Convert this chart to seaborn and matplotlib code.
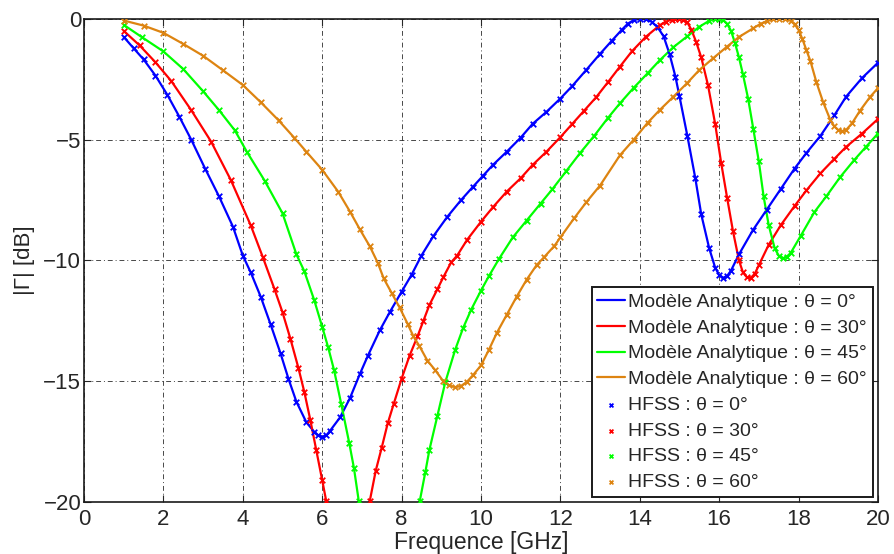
import pandas as pd
from matplotlib import pyplot as plt
import seaborn as sns

# |Gamma| vs frequency, analytic model vs HFSS, for 4 incidence angles

freq_0 = [1.0, 1.25, 1.5, 1.8, 2.1, 2.4, 2.7, 3.05, 3.4, 3.75, 4.0, 4.2, 4.45, 4.7, 4.95,
          5.15, 5.35, 5.6, 5.8, 5.9, 6.0, 6.1, 6.2, 6.45, 6.7, 6.95, 7.15, 7.45, 7.7, 8.0,
          8.25, 8.5, 8.8, 9.15, 9.5, 9.8, 10.05, 10.3, 10.65, 11.0, 11.3, 11.65, 12.0, 12.3,
          12.65, 13.0, 13.3, 13.55, 13.7, 13.85, 14.0, 14.15, 14.3, 14.45, 14.6, 14.75, 14.9,
          15.0, 15.2, 15.4, 15.55, 15.75, 15.9, 16.0, 16.1, 16.2, 16.3, 16.5, 16.85, 17.2,
          17.55, 17.9, 18.2, 18.55, 18.9, 19.2, 19.6, 20.0]
gamma_0 = [-0.75, -1.22, -1.68, -2.35, -3.15, -4.05, -5.0, -6.2, -7.35, -8.6, -9.8, -10.5,
           -11.5, -12.65, -13.85, -14.9, -15.85, -16.7, -17.1, -17.25, -17.3, -17.25, -17.05,
           -16.5, -15.7, -14.7, -13.95, -12.9, -12.15, -11.3, -10.6, -9.8, -9.0, -8.2, -7.5,
           -6.95, -6.5, -6.05, -5.5, -4.92, -4.35, -3.85, -3.3, -2.78, -2.12, -1.45, -0.9,
           -0.45, -0.2, -0.05, 0.0, -0.02, -0.12, -0.35, -0.72, -1.45, -2.4, -3.2, -4.85, -6.6,
           -8.1, -9.5, -10.3, -10.6, -10.72, -10.65, -10.42, -9.75, -8.75, -7.9, -7.05, -6.2,
           -5.55, -4.85, -4.0, -3.22, -2.45, -1.82]

freq_30 = [1.0, 1.4, 1.8, 2.2, 2.7, 3.2, 3.7, 4.2, 4.5, 4.8, 5.0, 5.2, 5.4, 5.55, 5.7, 5.85,
           6.0, 6.1, 6.2, 7.1, 7.2, 7.35, 7.5, 7.65, 7.8, 8.0, 8.2, 8.4, 8.55, 8.7, 8.9, 9.05,
           9.25, 9.4, 9.65, 10.0, 10.3, 10.65, 11.0, 11.3, 11.65, 12.0, 12.3, 12.6, 12.9, 13.2,
           13.5, 13.8, 14.15, 14.5, 14.65, 14.8, 14.9, 15.0, 15.1, 15.2, 15.3, 15.42, 15.55,
           15.72, 15.9, 16.05, 16.2, 16.35, 16.5, 16.6, 16.7, 16.8, 16.9, 17.0, 17.25, 17.55,
           17.9, 18.2, 18.55, 18.9, 19.2, 19.6, 20.0]
gamma_30 = [-0.5, -1.1, -1.8, -2.58, -3.78, -5.08, -6.68, -8.55, -9.85, -11.2, -12.15, -13.25,
            -14.45, -15.45, -16.6, -17.85, -19.1, -19.95, -20.9, -20.8, -19.95, -18.7, -17.75,
            -16.75, -15.95, -14.9, -13.95, -13.15, -12.5, -11.85, -11.2, -10.7, -10.08, -9.8,
            -9.15, -8.4, -7.8, -7.15, -6.6, -6.05, -5.5, -4.9, -4.35, -3.8, -3.25, -2.62, -1.98,
            -1.35, -0.75, -0.27, -0.12, -0.03, 0.0, 0.0, -0.03, -0.15, -0.45, -0.95, -1.6,
            -2.75, -4.35, -5.95, -7.4, -8.8, -10.0, -10.5, -10.7, -10.72, -10.55, -10.2, -9.35,
            -8.55, -7.75, -7.1, -6.4, -5.8, -5.3, -4.75, -4.15]

freq_45 = [1.0, 1.45, 2.0, 2.5, 3.0, 3.4, 3.8, 4.1, 4.55, 5.0, 5.35, 5.55, 5.8, 6.0, 6.15,
           6.3, 6.48, 6.68, 6.8, 6.92, 7.0, 8.35, 8.46, 8.6, 8.7, 8.9, 9.1, 9.35, 9.55, 9.75,
           10.0, 10.2, 10.45, 10.8, 11.15, 11.5, 11.8, 12.15, 12.5, 12.85, 13.2, 13.5, 13.85,
           14.2, 14.5, 14.85, 15.2, 15.5, 15.75, 15.9, 16.0, 16.1, 16.2, 16.3, 16.4, 16.5,
           16.6, 16.73, 16.86, 17.0, 17.12, 17.25, 17.4, 17.5, 17.6, 17.7, 17.8, 18.05, 18.4,
           18.7, 19.05, 19.4, 19.7, 20.0]
gamma_45 = [-0.25, -0.75, -1.35, -2.08, -3.0, -3.78, -4.62, -5.5, -6.7, -8.05, -9.75, -10.45,
            -11.65, -12.75, -13.6, -14.55, -15.95, -17.55, -18.6, -19.95, -20.9, -20.9, -19.95,
            -18.75, -17.85, -16.45, -15.05, -13.7, -12.8, -12.05, -11.25, -10.65, -9.95, -9.05,
            -8.35, -7.65, -7.05, -6.3, -5.55, -4.85, -4.1, -3.5, -2.85, -2.25, -1.72, -1.17,
            -0.72, -0.33, -0.08, -0.01, 0.0, -0.05, -0.2, -0.5, -1.0, -1.6, -2.3, -3.3, -4.55,
            -5.9, -7.35, -8.55, -9.5, -9.8, -9.92, -9.85, -9.7, -9.0, -8.0, -7.35, -6.55, -5.85,
            -5.3, -4.75]

freq_60 = [1.0, 1.5, 2.0, 2.5, 3.0, 3.5, 4.0, 4.45, 4.9, 5.3, 5.6, 6.0, 6.4, 6.7, 6.95, 7.2,
           7.4, 7.55, 7.75, 7.95, 8.15, 8.3, 8.45, 8.65, 8.85, 9.05, 9.2, 9.35, 9.5, 9.65, 9.8,
           10.0, 10.2, 10.4, 10.65, 10.9, 11.15, 11.4, 11.6, 11.85, 12.0, 12.35, 12.65, 13.0,
           13.5, 13.85, 14.2, 14.5, 14.85, 15.2, 15.5, 15.85, 16.2, 16.5, 16.85, 17.05, 17.2,
           17.35, 17.5, 17.65, 17.8, 17.9, 18.0, 18.1, 18.2, 18.3, 18.45, 18.62, 18.8, 18.9,
           19.0, 19.1, 19.2, 19.35, 19.55, 19.8, 20.0]
gamma_60 = [-0.07, -0.28, -0.58, -1.04, -1.53, -2.13, -2.74, -3.45, -4.2, -4.93, -5.5, -6.25,
            -7.15, -7.98, -8.72, -9.42, -10.1, -10.75, -11.35, -11.95, -12.62, -13.15, -13.55,
            -14.15, -14.55, -15.0, -15.18, -15.25, -15.2, -15.02, -14.75, -14.35, -13.7, -13.0,
            -12.25, -11.5, -10.8, -10.2, -9.85, -9.4, -9.05, -8.25, -7.6, -6.9, -5.65, -5.0,
            -4.3, -3.78, -3.22, -2.65, -2.12, -1.63, -1.15, -0.75, -0.4, -0.2, -0.1, -0.02, 0.0,
            -0.01, -0.08, -0.22, -0.45, -0.85, -1.3, -1.75, -2.62, -3.45, -4.18, -4.45, -4.6,
            -4.65, -4.6, -4.32, -3.8, -3.24, -2.87]

angles = [0, 30, 45, 60]
freqs = [freq_0, freq_30, freq_45, freq_60]
gammas = [gamma_0, gamma_30, gamma_45, gamma_60]
colors = ["#0000FF", "#FF0000", "#00FF00", "#DD8411"]

x_ticks = list(range(0, 21, 2))
y_ticks = [-20, -15, -10, -5, 0]

sns.set_theme(style="white")
plt.rcParams["font.family"] = ["Liberation Sans", "DejaVu Sans"]
plt.rcParams["xtick.direction"] = "in"
plt.rcParams["ytick.direction"] = "in"

fig, ax = plt.subplots(figsize=(8.94, 5.54), dpi=100)
fig.subplots_adjust(left=0.094, right=0.982, bottom=0.094, top=0.966)

for ang, f, g, c in zip(angles, freqs, gammas, colors):
    df = pd.DataFrame({"f": f, "g": g})
    sns.lineplot(data=df, x="f", y="g", color=c, linewidth=1.6, ax=ax,
                 estimator=None, sort=False,
                 label="Modèle Analytique : θ = %d°" % ang)

for ang, f, g, c in zip(angles, freqs, gammas, colors):
    df = pd.DataFrame({"f": f, "g": g})
    sns.scatterplot(data=df, x="f", y="g", color=c, marker="x", s=16, linewidth=1.3,
                    ax=ax, zorder=3, label="HFSS : θ = %d°" % ang)

ax.set_xlim(0, 20)
ax.set_ylim(-20, 0)
ax.set_xticks(x_ticks)
ax.set_yticks(y_ticks)
ax.tick_params(labelsize=16, length=5, width=0.8, top=True, right=True,
               bottom=True, left=True, pad=2)
ax.tick_params(axis="x", pad=5)
ax.grid(True, color="k", linewidth=0.7, alpha=0.8, dashes=(5, 3, 1, 3))
for s in ax.spines.values():
    s.set_color("k")
    s.set_linewidth(1.2)
ax.set_xlabel("Frequence [GHz]", fontsize=16.5, labelpad=1)
ax.set_ylabel("|Γ| [dB]", fontsize=16, labelpad=6)

leg = ax.legend(loc="lower right", fontsize=14, frameon=True, fancybox=False,
                framealpha=1, edgecolor="k", handlelength=1.4, handletextpad=0.2,
                labelspacing=0.42, borderaxespad=0.25, borderpad=0.3, markerscale=0.7)
leg.get_frame().set_linewidth(1.4)

plt.savefig("out.png", dpi=100)
